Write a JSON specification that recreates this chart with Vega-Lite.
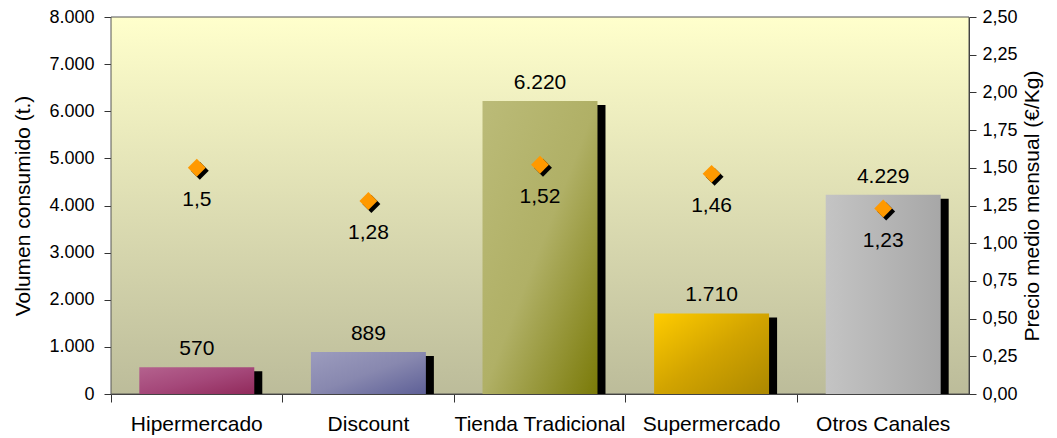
{
  "$schema": "https://vega.github.io/schema/vega-lite/v6.json",
  "width": 858,
  "height": 377,
  "autosize": "none",
  "padding": {"left": 111, "top": 17, "right": 88, "bottom": 44},
  "config": {
    "locale": {"number": {"decimal": ",", "thousands": ".", "grouping": [3], "currency": ["", " €"]}},
    "view": {"stroke": null},
    "font": "Liberation Sans",
    "axis": {"labelFont": "Liberation Sans", "titleFont": "Liberation Sans"}
  },
  "data": {
    "values": [
      {"canal": "Hipermercado", "volumen": 570, "precio": 1.5},
      {"canal": "Discount", "volumen": 889, "precio": 1.28},
      {"canal": "Tienda Tradicional", "volumen": 6220, "precio": 1.52},
      {"canal": "Supermercado", "volumen": 1710, "precio": 1.46},
      {"canal": "Otros Canales", "volumen": 4229, "precio": 1.23}
    ]
  },
  "layer": [
    {
      "data": {"values": [{"bg": 1}]},
      "mark": {
        "type": "rect",
        "stroke": "#555555",
        "strokeWidth": 1,
        "fill": {
          "gradient": "linear", "x1": 0, "y1": 0, "x2": 0, "y2": 1,
          "stops": [
            {"offset": 0, "color": "#FFFFCC"},
            {"offset": 1, "color": "#BCBC9A"}
          ]
        }
      },
      "encoding": {}
    },
    {
      "encoding": {
        "x": {
          "field": "canal", "type": "nominal", "sort": null,
          "scale": {"paddingInner": 0, "paddingOuter": 0},
          "axis": {
            "title": null, "labelAngle": 0, "labelFontSize": 21, "labelColor": "#000000",
            "bandPosition": 0, "tickSize": 8, "labelPadding": 11,
            "domainColor": "#333333", "tickColor": "#333333", "grid": false
          }
        },
        "y": {
          "field": "volumen", "type": "quantitative",
          "scale": {"domain": [0, 8000], "nice": false},
          "axis": {
            "orient": "left", "title": "Volumen consumido (t.)",
            "values": [0, 1000, 2000, 3000, 4000, 5000, 6000, 7000, 8000],
            "format": ",.0f", "labelFontSize": 18, "labelColor": "#000000",
            "titleFontSize": 21, "titleFontWeight": "normal", "titleColor": "#000000",
            "tickSize": 7, "labelPadding": 10, "titlePadding": 15,
            "domainColor": "#333333", "tickColor": "#333333", "grid": false
          }
        }
      },
      "layer": [
        {
          "mark": {"type": "bar", "color": "#000000", "xOffset": 8, "yOffset": 4, "clip": true, "width": {"band": 0.67}}
        },
        {
          "transform": [{"filter": "datum.canal === 'Hipermercado'"}],
          "mark": {"type": "bar", "width": {"band": 0.67},
            "fill": {"gradient": "linear", "x1": 0, "y1": 0, "x2": 1, "y2": 1,
              "stops": [{"offset": 0, "color": "#B4628E"}, {"offset": 0.5, "color": "#A5487A"}, {"offset": 1, "color": "#912A5B"}]}}
        },
        {
          "transform": [{"filter": "datum.canal === 'Discount'"}],
          "mark": {"type": "bar", "width": {"band": 0.67},
            "fill": {"gradient": "linear", "x1": 0, "y1": 0, "x2": 1, "y2": 1,
              "stops": [{"offset": 0, "color": "#9C9CBE"}, {"offset": 0.5, "color": "#8888AF"}, {"offset": 1, "color": "#5E6097"}]}}
        },
        {
          "transform": [{"filter": "datum.canal === 'Tienda Tradicional'"}],
          "mark": {"type": "bar", "width": {"band": 0.67},
            "fill": {"gradient": "linear", "x1": 0, "y1": 0, "x2": 1, "y2": 1,
              "stops": [{"offset": 0, "color": "#BBBB78"}, {"offset": 0.5, "color": "#B0B066"}, {"offset": 1, "color": "#7A7A08"}]}}
        },
        {
          "transform": [{"filter": "datum.canal === 'Supermercado'"}],
          "mark": {"type": "bar", "width": {"band": 0.67},
            "fill": {"gradient": "linear", "x1": 0, "y1": 0, "x2": 1, "y2": 1,
              "stops": [{"offset": 0, "color": "#FFCC00"}, {"offset": 0.5, "color": "#D2A400"}, {"offset": 1, "color": "#AC8800"}]}}
        },
        {
          "transform": [{"filter": "datum.canal === 'Otros Canales'"}],
          "mark": {"type": "bar", "width": {"band": 0.67},
            "fill": {"gradient": "linear", "x1": 0, "y1": 0, "x2": 1, "y2": 0,
              "stops": [{"offset": 0, "color": "#C4C4C4"}, {"offset": 1, "color": "#A7A7A7"}]}}
        },
        {
          "mark": {"type": "text", "baseline": "alphabetic", "dy": -12, "fontSize": 21, "color": "#000000"},
          "encoding": {"text": {"field": "volumen", "type": "quantitative", "format": ",.0f"}}
        }
      ]
    },
    {
      "encoding": {
        "x": {
          "field": "canal", "type": "nominal", "sort": null,
          "scale": {"paddingInner": 0, "paddingOuter": 0},
          "axis": {
            "title": null, "labelAngle": 0, "labelFontSize": 21, "labelColor": "#000000",
            "bandPosition": 0, "tickSize": 8, "labelPadding": 11,
            "domainColor": "#333333", "tickColor": "#333333", "grid": false
          }
        },
        "y": {
          "field": "precio", "type": "quantitative",
          "scale": {"domain": [0, 2.5], "nice": false},
          "axis": {
            "orient": "right", "title": "Precio medio mensual (€/Kg)",
            "values": [0, 0.25, 0.5, 0.75, 1, 1.25, 1.5, 1.75, 2, 2.25, 2.5],
            "format": ".2f", "labelFontSize": 18, "labelColor": "#000000",
            "titleFontSize": 21, "titleFontWeight": "normal", "titleColor": "#000000",
            "titleAngle": 270, "titleBaseline": "top", "tickSize": 7, "labelPadding": 6, "titlePadding": 4,
            "domainColor": "#333333", "tickColor": "#333333", "grid": false
          }
        }
      },
      "layer": [
        {
          "mark": {"type": "point", "shape": "diamond", "filled": true, "size": 320, "color": "#000000", "opacity": 1, "xOffset": 3, "yOffset": 3}
        },
        {
          "mark": {"type": "point", "shape": "diamond", "filled": true, "size": 320, "color": "#FF9900", "opacity": 1}
        },
        {
          "mark": {"type": "text", "baseline": "middle", "dy": 32, "fontSize": 21, "color": "#000000"},
          "encoding": {"text": {"field": "precio", "type": "quantitative", "format": ".2~f"}}
        }
      ]
    }
  ],
  "resolve": {"scale": {"y": "independent"}}
}
